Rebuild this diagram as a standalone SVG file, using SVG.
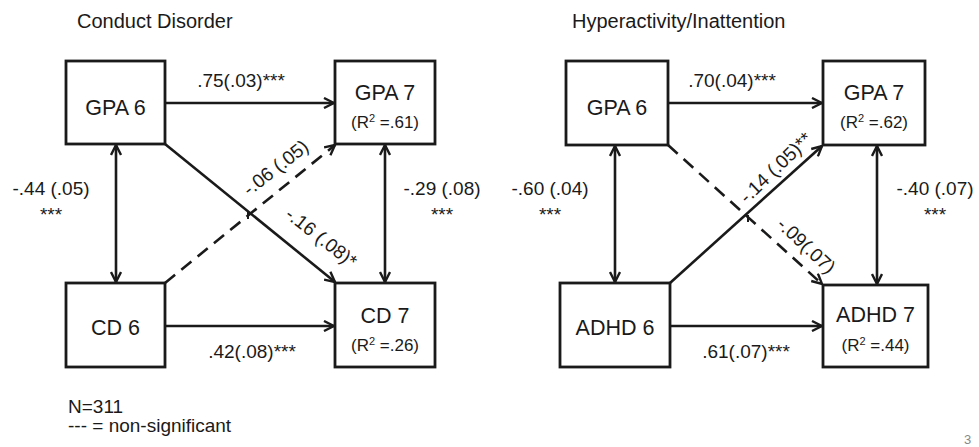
<svg xmlns="http://www.w3.org/2000/svg" width="979" height="447" viewBox="0 0 979 447">
  <style>
    text { font-family: "Liberation Sans", Arial, sans-serif; fill: #1a1a1a; }
    .title { font-size: 20px; }
    .box { fill: #fff; stroke: #1a1a1a; stroke-width: 2.8; }
    .name { font-size: 21.5px; text-anchor: middle; }
    .r2 { font-size: 17px; text-anchor: middle; }
    .lbl { font-size: 19px; text-anchor: middle; }
    .foot { font-size: 19px; }
    .edge { fill: none; stroke: #1a1a1a; stroke-width: 2.6; }
    .arrow { marker-end: url(#head); }
    .both { marker-start: url(#head); marker-end: url(#head); }
    .dash { stroke-dasharray: 13 8; }
    .tick { stroke: #1a1a1a; stroke-width: 2; }
  </style>
  <defs>
    <marker id="head" viewBox="0 0 12 12" refX="11" refY="6" markerWidth="12" markerHeight="12" markerUnits="userSpaceOnUse" orient="auto-start-reverse">
      <path d="M1,1 L11,6 L1,11" fill="none" stroke="#1a1a1a" stroke-width="2.4" stroke-linejoin="miter"/>
    </marker>
  </defs>
  <rect width="979" height="447" fill="#fff"/>

  <!-- Panel titles -->
  <text class="title" x="77" y="28">Conduct Disorder</text>
  <text class="title" x="572" y="28">Hyperactivity/Inattention</text>

  <!-- Connectors -->
  <g id="connectors">
    <!-- Conduct Disorder model -->
    <line class="edge arrow" x1="165" y1="103" x2="334" y2="103"/>
    <line class="edge arrow" x1="165" y1="326" x2="334" y2="326"/>
    <line class="edge both" x1="116" y1="145" x2="116" y2="282"/>
    <line class="edge both" x1="385" y1="145" x2="385" y2="282"/>
    <line class="edge arrow" x1="165" y1="144" x2="335" y2="282"/>
    <line class="edge arrow dash" x1="165" y1="283" x2="335" y2="145"/>
    <line class="tick" x1="248" y1="212" x2="248" y2="219"/>

    <!-- Hyperactivity/Inattention model -->
    <line class="edge arrow" x1="668" y1="103" x2="822" y2="103"/>
    <line class="edge arrow" x1="670" y1="326" x2="822" y2="326"/>
    <line class="edge both" x1="615" y1="146" x2="615" y2="282"/>
    <line class="edge both" x1="877" y1="146" x2="877" y2="284"/>
    <line class="edge arrow" x1="670" y1="283" x2="822" y2="146"/>
    <line class="edge arrow dash" x1="668" y1="145" x2="822" y2="284"/>
    <line class="tick" x1="748" y1="215" x2="748" y2="222"/>
  </g>

  <!-- Path coefficients -->
  <g id="coefficients">
    <text class="lbl" x="241" y="87">.75(.03)***</text>
    <text class="lbl" x="252" y="358">.42(.08)***</text>
    <text class="lbl" x="51" y="195">-.44 (.05)</text>
    <text class="lbl" x="51" y="221">***</text>
    <text class="lbl" x="442" y="195">-.29 (.08)</text>
    <text class="lbl" x="442" y="221">***</text>
    <text class="lbl" transform="translate(276,168) rotate(-38)" y="6">-.06 (.05)</text>
    <text class="lbl" transform="translate(321,238) rotate(38)" y="6">-.16 (.08)*</text>

    <text class="lbl" x="732" y="87">.70(.04)***</text>
    <text class="lbl" x="746" y="358">.61(.07)***</text>
    <text class="lbl" x="550" y="195">-.60 (.04)</text>
    <text class="lbl" x="550" y="221">***</text>
    <text class="lbl" x="935" y="195">-.40 (.07)</text>
    <text class="lbl" x="935" y="221">***</text>
    <text class="lbl" transform="translate(776,168) rotate(-44)" y="6">-.14 (.05)**</text>
    <text class="lbl" transform="translate(806,246) rotate(43)" y="6">-.09(.07)</text>
  </g>

  <!-- Nodes: Conduct Disorder -->
  <g id="cd-gpa6">
    <rect class="box" x="66" y="61" width="99" height="83"/>
    <text class="name" x="115.5" y="115">GPA 6</text>
  </g>
  <g id="cd-gpa7">
    <rect class="box" x="335" y="61" width="100" height="83"/>
    <text class="name" x="385" y="100">GPA 7</text>
    <text class="r2" x="385" y="128">(R<tspan font-size="11" dy="-6">2</tspan><tspan dy="6"> =.61)</tspan></text>
  </g>
  <g id="cd-cd6">
    <rect class="box" x="66" y="283" width="99" height="84"/>
    <text class="name" x="115.5" y="335">CD 6</text>
  </g>
  <g id="cd-cd7">
    <rect class="box" x="335" y="283" width="100" height="84"/>
    <text class="name" x="385" y="323">CD 7</text>
    <text class="r2" x="385" y="351">(R<tspan font-size="11" dy="-6">2</tspan><tspan dy="6"> =.26)</tspan></text>
  </g>

  <!-- Nodes: Hyperactivity/Inattention -->
  <g id="hi-gpa6">
    <rect class="box" x="566" y="61" width="102" height="84"/>
    <text class="name" x="617" y="115">GPA 6</text>
  </g>
  <g id="hi-gpa7">
    <rect class="box" x="823" y="61" width="102" height="84"/>
    <text class="name" x="874" y="100">GPA 7</text>
    <text class="r2" x="874" y="128">(R<tspan font-size="11" dy="-6">2</tspan><tspan dy="6"> =.62)</tspan></text>
  </g>
  <g id="hi-adhd6">
    <rect class="box" x="560" y="283" width="110" height="84"/>
    <text class="name" x="615" y="335">ADHD 6</text>
  </g>
  <g id="hi-adhd7">
    <rect class="box" x="823" y="285" width="105" height="82"/>
    <text class="name" x="875.5" y="322">ADHD 7</text>
    <text class="r2" x="875.5" y="351">(R<tspan font-size="11" dy="-6">2</tspan><tspan dy="6"> =.44)</tspan></text>
  </g>

  <!-- Notes -->
  <text class="foot" x="68" y="413">N=311</text>
  <text class="foot" x="68" y="432">--- = non-significant</text>
  <text x="964" y="444" font-size="13" style="fill:#888">3</text>
</svg>
